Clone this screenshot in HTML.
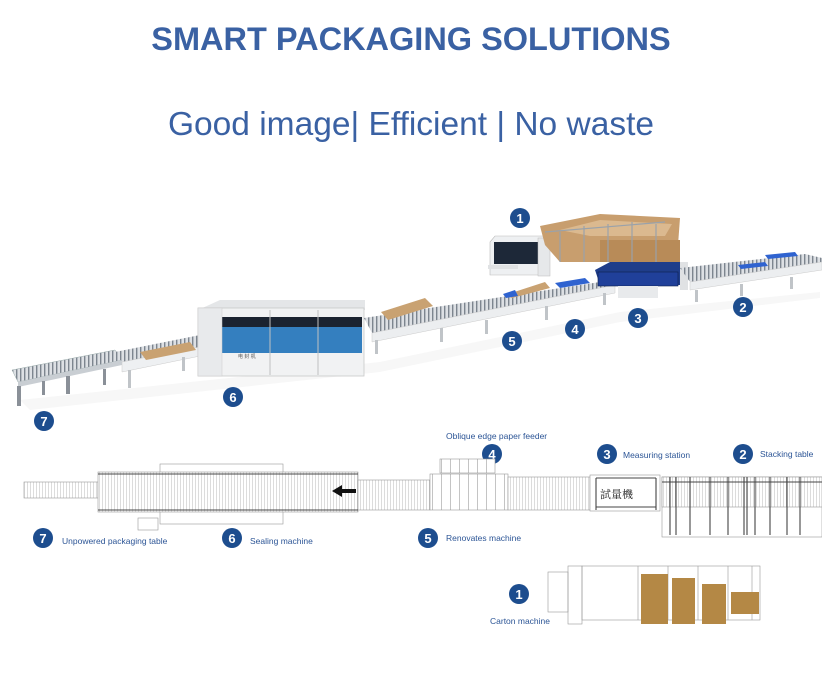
<!DOCTYPE html>
<html><head><meta charset="utf-8"><style>
html,body{margin:0;padding:0;background:#fff;}
body{width:822px;height:678px;overflow:hidden;position:relative;font-family:"Liberation Sans","Noto Sans CJK SC",sans-serif;}
.t1{position:absolute;left:0;width:822px;top:21px;text-align:center;color:#3a61a3;font-weight:bold;font-size:32.5px;letter-spacing:0px;}
.t2{position:absolute;left:0;width:822px;top:106px;text-align:center;color:#3a61a3;font-size:33.5px;}
svg{position:absolute;left:0;top:0;}
</style></head><body>
<div class="t1">SMART PACKAGING SOLUTIONS</div>
<div class="t2">Good image| Efficient | No waste</div>
<svg width="822" height="678" viewBox="0 0 822 678">
<defs>
<pattern id="rol" width="4" height="10" patternUnits="userSpaceOnUse"><rect width="4" height="10" fill="#dde0e4"/><rect width="1.4" height="10" fill="#7d858f"/></pattern>
<pattern id="pl" width="3" height="10" patternUnits="userSpaceOnUse"><rect width="3" height="10" fill="#fff"/><rect width="0.6" height="10" fill="#c4c4c4"/></pattern>
<pattern id="pl2" width="9" height="10" patternUnits="userSpaceOnUse"><rect width="9" height="10" fill="#fff"/><rect width="0.7" height="10" fill="#aaa"/></pattern>
</defs>
<!-- shadow -->
<polygon points="20,400 380,362 620,312 820,292 820,298 620,322 380,372 30,410" fill="#f7f7f7"/>
<!-- conveyor 7 -->
<polygon points="12,370 115,350 122,360 18,382" fill="url(#rol)" stroke="#9aa" stroke-width="0.5"/>
<polygon points="18,382 122,360 122,365 18,387" fill="#c9ced3"/>
<rect x="17" y="386" width="4" height="20" fill="#8a9098"/><rect x="42" y="381" width="3" height="14" fill="#8a9098"/>
<rect x="66" y="376" width="4" height="18" fill="#8a9098"/><rect x="103" y="369" width="3" height="16" fill="#8a9098"/>
<!-- infeed conveyor 6 -->
<polygon points="115,352 205,334 210,345 122,362" fill="url(#rol)"/>
<polygon points="122,362 210,345 210,354 122,372" fill="#eef0f2" stroke="#ccc" stroke-width="0.5"/>
<polygon points="140,352 190,342 196,350 146,360" fill="#c9a272"/>
<rect x="128" y="370" width="3" height="18" fill="#c0c4c8"/><rect x="182" y="357" width="3" height="14" fill="#c0c4c8"/>
<!-- machine 6 -->
<polygon points="198,310 220,300 365,300 365,310" fill="#e4e6e8"/>
<rect x="198" y="308" width="166" height="68" fill="#f1f2f3" stroke="#c8c8c8" stroke-width="0.8"/>
<rect x="222" y="317" width="140" height="10" fill="#1b2330"/>
<rect x="222" y="327" width="140" height="26" fill="#2a6fae"/>
<rect x="222" y="327" width="140" height="26" fill="#3d8fd0" opacity="0.5"/>
<line x1="270" y1="310" x2="270" y2="375" stroke="#c0c0c0"/><line x1="318" y1="310" x2="318" y2="375" stroke="#c0c0c0"/>
<rect x="198" y="308" width="24" height="68" fill="#e8eaec" stroke="#ccc" stroke-width="0.5"/>
<text x="238" y="358" font-size="5" fill="#555">电 封 机</text>
<!-- conveyor 5 main -->
<polygon points="364,318 600,282 615,285 372,333" fill="url(#rol)"/>
<polygon points="372,333 615,285 615,293 372,342" fill="#eceef0" stroke="#ccc" stroke-width="0.5"/>
<polygon points="381,312 425,298 433,306 388,320" fill="#c9a272"/>
<polygon points="505,295 545,282 550,288 512,298" fill="#c9a272"/>
<polygon points="503,294 515,290 518,296 506,298" fill="#2f63d0"/>
<polygon points="555,283 585,278 590,283 560,288" fill="#2f63d0"/>
<rect x="375" y="340" width="3" height="14" fill="#c0c4c8"/><rect x="440" y="328" width="3" height="14" fill="#c0c4c8"/>
<rect x="485" y="320" width="3" height="14" fill="#c0c4c8"/><rect x="545" y="306" width="3" height="14" fill="#c0c4c8"/>
<rect x="603" y="293" width="3" height="12" fill="#c0c4c8"/>
<!-- machine 1 -->
<polygon points="490,242 495,236 548,236 548,275 490,275" fill="#eef0f2" stroke="#bbb" stroke-width="0.6"/>
<rect x="494" y="242" width="44" height="22" fill="#1d2838"/>
<rect x="538" y="238" width="12" height="38" fill="#e6e8ea" stroke="#bbb" stroke-width="0.5"/>
<rect x="488" y="265" width="30" height="4" fill="#e0e2e4"/>
<!-- carton stack -->
<polygon points="540,226 600,214 680,218 678,245 650,262 560,262 545,245" fill="#c89e6e"/>
<polygon points="560,230 600,220 672,224 665,236 590,236" fill="#dbb98f"/>
<polygon points="600,240 680,240 680,262 600,262" fill="#b88b58"/>
<g stroke="#9aa2aa" stroke-width="1.2" fill="none"><line x1="560" y1="232" x2="560" y2="262"/><line x1="584" y1="226" x2="584" y2="262"/><line x1="608" y1="224" x2="608" y2="262"/><line x1="632" y1="222" x2="632" y2="262"/><line x1="656" y1="224" x2="656" y2="262"/><line x1="545" y1="232" x2="665" y2="222"/></g>
<!-- measuring station 3 -->
<polygon points="595,270 610,262 680,262 680,285 600,285" fill="#1f3d8a"/>
<rect x="598" y="272" width="80" height="14" fill="#20409a" stroke="#0d1f4d" stroke-width="0.6"/>
<rect x="618" y="286" width="40" height="12" fill="#e8eaec"/>
<rect x="680" y="262" width="8" height="28" fill="#e0e2e4"/>
<!-- conveyor 2 -->
<polygon points="680,268 805,254 822,258 822,262 690,282" fill="url(#rol)"/>
<polygon points="690,282 822,262 822,270 690,290" fill="#eceef0" stroke="#ccc" stroke-width="0.5"/>
<polygon points="738,265 765,262 768,266 741,269" fill="#2f63d0"/><polygon points="765,255 795,252 798,256 768,259" fill="#2f63d0"/>
<rect x="695" y="290" width="3" height="12" fill="#c0c4c8"/><rect x="740" y="284" width="3" height="12" fill="#c0c4c8"/><rect x="790" y="277" width="3" height="12" fill="#c0c4c8"/>
<!-- numbered circles -->
<g fill="#1d4d8e"><circle cx="520" cy="218" r="10"/><circle cx="743" cy="307" r="10"/><circle cx="638" cy="318" r="10"/><circle cx="575" cy="329" r="10"/><circle cx="512" cy="341" r="10"/><circle cx="233" cy="397" r="10"/><circle cx="44" cy="421" r="10"/>
<circle cx="492" cy="454" r="10"/><circle cx="607" cy="454" r="10"/><circle cx="743" cy="454" r="10"/><circle cx="43" cy="538" r="10"/><circle cx="232" cy="538" r="10"/><circle cx="428" cy="538" r="10"/><circle cx="519" cy="594" r="10"/></g>
<g fill="#fff" font-size="13" font-weight="bold" text-anchor="middle" font-family="Liberation Sans, sans-serif">
<text x="520" y="223">1</text><text x="743" y="312">2</text><text x="638" y="323">3</text><text x="575" y="334">4</text><text x="512" y="346">5</text><text x="233" y="402">6</text><text x="44" y="426">7</text>
<text x="492" y="459">4</text><text x="607" y="459">3</text><text x="743" y="459">2</text><text x="43" y="543">7</text><text x="232" y="543">6</text><text x="428" y="543">5</text><text x="519" y="599">1</text></g>
<g fill="#2c5596" font-size="8.5" font-family="Liberation Sans, sans-serif">
<text x="446" y="439">Oblique edge paper feeder</text><text x="623" y="458">Measuring station</text><text x="760" y="457">Stacking table</text>
<text x="62" y="544">Unpowered packaging table</text><text x="250" y="544">Sealing machine</text><text x="446" y="541">Renovates machine</text><text x="490" y="624">Carton machine</text></g>
<!-- plan view -->
<g stroke="#999" stroke-width="0.6">
<rect x="24" y="482" width="74" height="16" fill="url(#pl)"/>
<rect x="160" y="464" width="123" height="60" fill="none"/>
<rect x="98" y="472" width="260" height="40" fill="url(#pl)"/>
<rect x="138" y="518" width="20" height="12" fill="#fff"/>
<rect x="358" y="480" width="72" height="30" fill="url(#pl)"/>
<rect x="430" y="474" width="78" height="36" fill="url(#pl2)"/>
<rect x="440" y="459" width="55" height="14" fill="url(#pl2)"/>
<rect x="508" y="477" width="82" height="33" fill="url(#pl)"/>
<rect x="590" y="475" width="70" height="36" fill="#fff"/>
<rect x="662" y="477" width="160" height="60" fill="#fff"/>
<rect x="662" y="477" width="160" height="30" fill="url(#pl)"/>
</g>
<g stroke="#444" stroke-width="1.1">
<line x1="670" y1="477" x2="670" y2="535"/><line x1="676" y1="477" x2="676" y2="535"/><line x1="690" y1="477" x2="690" y2="535"/><line x1="710" y1="477" x2="710" y2="535"/><line x1="728" y1="477" x2="728" y2="535"/><line x1="744" y1="477" x2="744" y2="535"/><line x1="747" y1="477" x2="747" y2="535"/><line x1="755" y1="477" x2="755" y2="535"/><line x1="770" y1="477" x2="770" y2="535"/><line x1="787" y1="477" x2="787" y2="535"/><line x1="800" y1="477" x2="800" y2="535"/>
<line x1="662" y1="482" x2="822" y2="482"/><line x1="596" y1="478" x2="596" y2="510"/><line x1="656" y1="478" x2="656" y2="510"/><line x1="596" y1="478" x2="656" y2="478"/><line x1="596" y1="507" x2="656" y2="507"/>
<line x1="98" y1="474" x2="358" y2="474"/><line x1="98" y1="510" x2="358" y2="510"/>
</g>
<text x="600" y="498" font-size="11" fill="#222" font-family="Noto Serif CJK SC, serif">試量機</text>
<polygon points="332,491 342,485 342,489 356,489 356,493 342,493 342,497" fill="#111"/>
<!-- carton machine plan -->
<g stroke="#999" stroke-width="0.6" fill="none">
<rect x="548" y="572" width="20" height="40"/><rect x="568" y="566" width="14" height="58"/><rect x="582" y="566" width="178" height="54"/>
<line x1="638" y1="566" x2="638" y2="620"/><line x1="668" y1="566" x2="668" y2="620"/><line x1="698" y1="566" x2="698" y2="620"/><line x1="728" y1="566" x2="728" y2="620"/><line x1="752" y1="566" x2="752" y2="620"/>
</g>
<g fill="#b48845"><rect x="641" y="574" width="27" height="50"/><rect x="672" y="578" width="23" height="46"/><rect x="702" y="584" width="24" height="40"/><rect x="731" y="592" width="28" height="22"/></g>
</svg>
</body></html>
